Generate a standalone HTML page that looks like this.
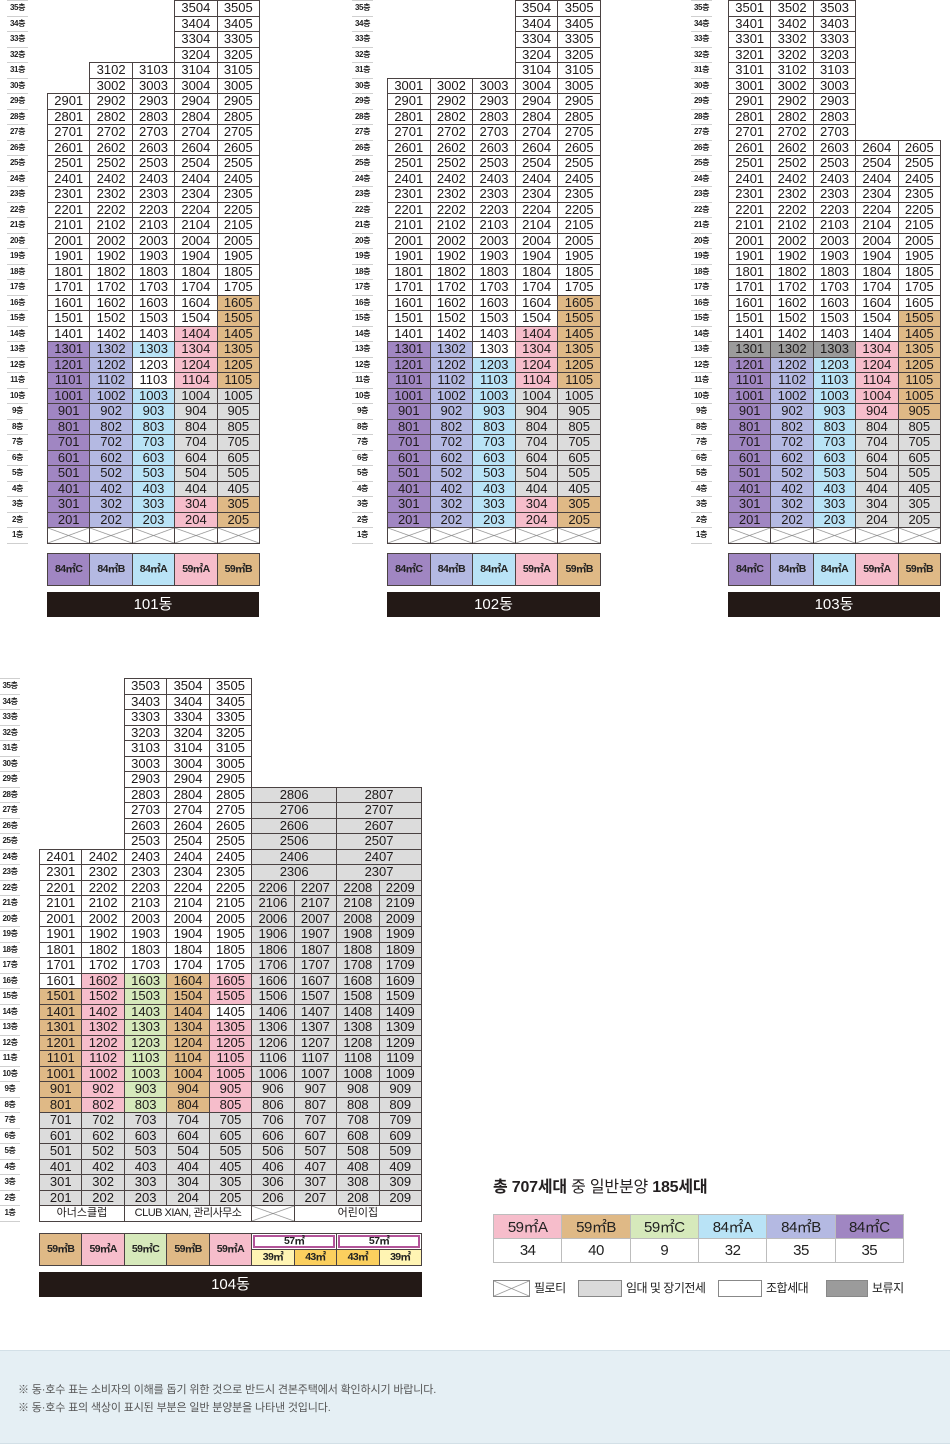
<!DOCTYPE html>
<html lang="ko"><head><meta charset="utf-8">
<style>
*{box-sizing:border-box}
body{margin:0;width:950px;height:1456px;position:relative;background:#fff;font-family:"Liberation Sans","Noto Sans CJK KR",sans-serif;overflow:hidden;color:#231f20}
.g{position:absolute;display:grid;grid-auto-rows:15.5px}
.c5{grid-template-columns:repeat(5,1fr)}
.c9{grid-template-columns:repeat(9,1fr)}
.g b{font-weight:normal;border:1px solid #4a4242;margin:-1px 0 0 -1px;font-size:13px;line-height:14px;text-align:center;background:#fff;display:block;white-space:nowrap;overflow:hidden;color:#1e1a1a}
.g i{display:block}
.g b.p{background:#a086c2}.g b.l{background:#b4b9e2}.g b.a{background:#b9e3f6}
.g b.k{background:#f6bdcb}.g b.t{background:#dfb986}.g b.n{background:#d6e9bb}
.g b.gr{background:#dcdcdc}.g b.d{background:#9b9b9b}
.g b.s2{grid-column:span 2}.g b.s3{grid-column:span 3}
.x{background-color:#fff!important;background-image:linear-gradient(to top right,transparent calc(50% - .7px),#8a8a8a 50%,transparent calc(50% + .7px)),linear-gradient(to bottom right,transparent calc(50% - .7px),#8a8a8a 50%,transparent calc(50% + .7px))!important}
.fl{position:absolute;top:0;display:grid;grid-auto-rows:15.5px;border-top:1px solid #cfcfcf}
.fl div{font-size:8px;font-weight:bold;text-align:center;line-height:14px;border-bottom:1px solid #cfcfcf;color:#222;letter-spacing:-.4px}
.lg{position:absolute;display:grid;grid-template-columns:repeat(5,1fr);height:33px}
.lg div{border:1px solid #4a4242;margin-left:-1px;font-size:10.5px;line-height:31px;text-align:center;letter-spacing:-.6px;color:#222;font-weight:bold}
.bar{position:absolute;height:25px;background:#231916;color:#fff;font-size:15px;line-height:25px;text-align:center}
.l4{position:absolute;left:40px;top:1234px;width:382px;height:32px;display:grid;grid-template-columns:repeat(9,1fr);grid-template-rows:16px 16px}
.l4 div{border:1px solid #4a4242;margin:-1px 0 0 -1px;font-size:10.5px;text-align:center;letter-spacing:-.6px;color:#222;line-height:14px;font-weight:bold}
.l4 .r2{grid-row:span 2;line-height:30px}
.l4 .m{grid-column:span 2;background:#fff;box-shadow:inset 0 0 0 1px #fff,inset 0 0 0 3px #b35499}
.sum{position:absolute;left:493px;top:1214px;width:411px;border-collapse:collapse;table-layout:fixed}
.sum td{border:1px solid #bdbdbd;height:24px;text-align:center;font-size:15px;color:#222;padding:0;letter-spacing:-.5px}
.leg{position:absolute;top:1280px;height:17px;border:1px solid #888}
.lt{position:absolute;top:1280px;font-size:12px;line-height:17px;color:#222;letter-spacing:-.5px}
</style></head><body>

<!-- floor labels -->
<div class="fl" style="left:7px;width:21px"><div>35층</div><div>34층</div><div>33층</div><div>32층</div><div>31층</div><div>30층</div><div>29층</div><div>28층</div><div>27층</div><div>26층</div><div>25층</div><div>24층</div><div>23층</div><div>22층</div><div>21층</div><div>20층</div><div>19층</div><div>18층</div><div>17층</div><div>16층</div><div>15층</div><div>14층</div><div>13층</div><div>12층</div><div>11층</div><div>10층</div><div>9층</div><div>8층</div><div>7층</div><div>6층</div><div>5층</div><div>4층</div><div>3층</div><div>2층</div><div>1층</div></div>
<div class="fl" style="left:352px;width:21px"><div>35층</div><div>34층</div><div>33층</div><div>32층</div><div>31층</div><div>30층</div><div>29층</div><div>28층</div><div>27층</div><div>26층</div><div>25층</div><div>24층</div><div>23층</div><div>22층</div><div>21층</div><div>20층</div><div>19층</div><div>18층</div><div>17층</div><div>16층</div><div>15층</div><div>14층</div><div>13층</div><div>12층</div><div>11층</div><div>10층</div><div>9층</div><div>8층</div><div>7층</div><div>6층</div><div>5층</div><div>4층</div><div>3층</div><div>2층</div><div>1층</div></div>
<div class="fl" style="left:691px;width:21px"><div>35층</div><div>34층</div><div>33층</div><div>32층</div><div>31층</div><div>30층</div><div>29층</div><div>28층</div><div>27층</div><div>26층</div><div>25층</div><div>24층</div><div>23층</div><div>22층</div><div>21층</div><div>20층</div><div>19층</div><div>18층</div><div>17층</div><div>16층</div><div>15층</div><div>14층</div><div>13층</div><div>12층</div><div>11층</div><div>10층</div><div>9층</div><div>8층</div><div>7층</div><div>6층</div><div>5층</div><div>4층</div><div>3층</div><div>2층</div><div>1층</div></div>
<div class="fl" style="left:0px;width:20px;top:678px"><div>35층</div><div>34층</div><div>33층</div><div>32층</div><div>31층</div><div>30층</div><div>29층</div><div>28층</div><div>27층</div><div>26층</div><div>25층</div><div>24층</div><div>23층</div><div>22층</div><div>21층</div><div>20층</div><div>19층</div><div>18층</div><div>17층</div><div>16층</div><div>15층</div><div>14층</div><div>13층</div><div>12층</div><div>11층</div><div>10층</div><div>9층</div><div>8층</div><div>7층</div><div>6층</div><div>5층</div><div>4층</div><div>3층</div><div>2층</div><div>1층</div></div>

<!-- 101 -->
<div class="g c5" style="left:48px;top:1px;width:212px">
<i></i><i></i><i></i><b>3504</b><b>3505</b>
<i></i><i></i><i></i><b>3404</b><b>3405</b>
<i></i><i></i><i></i><b>3304</b><b>3305</b>
<i></i><i></i><i></i><b>3204</b><b>3205</b>
<i></i><b>3102</b><b>3103</b><b>3104</b><b>3105</b>
<i></i><b>3002</b><b>3003</b><b>3004</b><b>3005</b>
<b>2901</b><b>2902</b><b>2903</b><b>2904</b><b>2905</b>
<b>2801</b><b>2802</b><b>2803</b><b>2804</b><b>2805</b>
<b>2701</b><b>2702</b><b>2703</b><b>2704</b><b>2705</b>
<b>2601</b><b>2602</b><b>2603</b><b>2604</b><b>2605</b>
<b>2501</b><b>2502</b><b>2503</b><b>2504</b><b>2505</b>
<b>2401</b><b>2402</b><b>2403</b><b>2404</b><b>2405</b>
<b>2301</b><b>2302</b><b>2303</b><b>2304</b><b>2305</b>
<b>2201</b><b>2202</b><b>2203</b><b>2204</b><b>2205</b>
<b>2101</b><b>2102</b><b>2103</b><b>2104</b><b>2105</b>
<b>2001</b><b>2002</b><b>2003</b><b>2004</b><b>2005</b>
<b>1901</b><b>1902</b><b>1903</b><b>1904</b><b>1905</b>
<b>1801</b><b>1802</b><b>1803</b><b>1804</b><b>1805</b>
<b>1701</b><b>1702</b><b>1703</b><b>1704</b><b>1705</b>
<b>1601</b><b>1602</b><b>1603</b><b>1604</b><b class="t">1605</b>
<b>1501</b><b>1502</b><b>1503</b><b>1504</b><b class="t">1505</b>
<b>1401</b><b>1402</b><b>1403</b><b class="k">1404</b><b class="t">1405</b>
<b class="p">1301</b><b class="l">1302</b><b class="a">1303</b><b class="k">1304</b><b class="t">1305</b>
<b class="p">1201</b><b class="l">1202</b><b>1203</b><b class="k">1204</b><b class="t">1205</b>
<b class="p">1101</b><b class="l">1102</b><b>1103</b><b class="k">1104</b><b class="t">1105</b>
<b class="p">1001</b><b class="l">1002</b><b class="a">1003</b><b class="gr">1004</b><b class="gr">1005</b>
<b class="p">901</b><b class="l">902</b><b class="a">903</b><b class="gr">904</b><b class="gr">905</b>
<b class="p">801</b><b class="l">802</b><b class="a">803</b><b class="gr">804</b><b class="gr">805</b>
<b class="p">701</b><b class="l">702</b><b class="a">703</b><b class="gr">704</b><b class="gr">705</b>
<b class="p">601</b><b class="l">602</b><b class="a">603</b><b class="gr">604</b><b class="gr">605</b>
<b class="p">501</b><b class="l">502</b><b class="a">503</b><b class="gr">504</b><b class="gr">505</b>
<b class="p">401</b><b class="l">402</b><b class="a">403</b><b class="gr">404</b><b class="gr">405</b>
<b class="p">301</b><b class="l">302</b><b class="a">303</b><b class="k">304</b><b class="t">305</b>
<b class="p">201</b><b class="l">202</b><b class="a">203</b><b class="k">204</b><b class="t">205</b>
<b class="x"></b><b class="x"></b><b class="x"></b><b class="x"></b><b class="x"></b>
</div>
<div class="lg" style="left:48px;top:553px;width:212px"><div style="background:#a086c2">84㎡C</div><div style="background:#b4b9e2">84㎡B</div><div style="background:#b9e3f6">84㎡A</div><div style="background:#f6bdcb">59㎡A</div><div style="background:#dfb986">59㎡B</div></div>
<div class="bar" style="left:47px;top:592px;width:212px">101동</div>

<!-- 102 -->
<div class="g c5" style="left:388px;top:1px;width:213px">
<i></i><i></i><i></i><b>3504</b><b>3505</b>
<i></i><i></i><i></i><b>3404</b><b>3405</b>
<i></i><i></i><i></i><b>3304</b><b>3305</b>
<i></i><i></i><i></i><b>3204</b><b>3205</b>
<i></i><i></i><i></i><b>3104</b><b>3105</b>
<b>3001</b><b>3002</b><b>3003</b><b>3004</b><b>3005</b>
<b>2901</b><b>2902</b><b>2903</b><b>2904</b><b>2905</b>
<b>2801</b><b>2802</b><b>2803</b><b>2804</b><b>2805</b>
<b>2701</b><b>2702</b><b>2703</b><b>2704</b><b>2705</b>
<b>2601</b><b>2602</b><b>2603</b><b>2604</b><b>2605</b>
<b>2501</b><b>2502</b><b>2503</b><b>2504</b><b>2505</b>
<b>2401</b><b>2402</b><b>2403</b><b>2404</b><b>2405</b>
<b>2301</b><b>2302</b><b>2303</b><b>2304</b><b>2305</b>
<b>2201</b><b>2202</b><b>2203</b><b>2204</b><b>2205</b>
<b>2101</b><b>2102</b><b>2103</b><b>2104</b><b>2105</b>
<b>2001</b><b>2002</b><b>2003</b><b>2004</b><b>2005</b>
<b>1901</b><b>1902</b><b>1903</b><b>1904</b><b>1905</b>
<b>1801</b><b>1802</b><b>1803</b><b>1804</b><b>1805</b>
<b>1701</b><b>1702</b><b>1703</b><b>1704</b><b>1705</b>
<b>1601</b><b>1602</b><b>1603</b><b>1604</b><b class="t">1605</b>
<b>1501</b><b>1502</b><b>1503</b><b>1504</b><b class="t">1505</b>
<b>1401</b><b>1402</b><b>1403</b><b class="k">1404</b><b class="t">1405</b>
<b class="p">1301</b><b class="l">1302</b><b>1303</b><b class="k">1304</b><b class="t">1305</b>
<b class="p">1201</b><b class="l">1202</b><b class="a">1203</b><b class="k">1204</b><b class="t">1205</b>
<b class="p">1101</b><b class="l">1102</b><b class="a">1103</b><b class="k">1104</b><b class="t">1105</b>
<b class="p">1001</b><b class="l">1002</b><b class="a">1003</b><b class="gr">1004</b><b class="gr">1005</b>
<b class="p">901</b><b class="l">902</b><b class="a">903</b><b class="gr">904</b><b class="gr">905</b>
<b class="p">801</b><b class="l">802</b><b class="a">803</b><b class="gr">804</b><b class="gr">805</b>
<b class="p">701</b><b class="l">702</b><b class="a">703</b><b class="gr">704</b><b class="gr">705</b>
<b class="p">601</b><b class="l">602</b><b class="a">603</b><b class="gr">604</b><b class="gr">605</b>
<b class="p">501</b><b class="l">502</b><b class="a">503</b><b class="gr">504</b><b class="gr">505</b>
<b class="p">401</b><b class="l">402</b><b class="a">403</b><b class="gr">404</b><b class="gr">405</b>
<b class="p">301</b><b class="l">302</b><b class="a">303</b><b class="k">304</b><b class="t">305</b>
<b class="p">201</b><b class="l">202</b><b class="a">203</b><b class="k">204</b><b class="t">205</b>
<b class="x"></b><b class="x"></b><b class="x"></b><b class="x"></b><b class="x"></b>
</div>
<div class="lg" style="left:388px;top:553px;width:213px"><div style="background:#a086c2">84㎡C</div><div style="background:#b4b9e2">84㎡B</div><div style="background:#b9e3f6">84㎡A</div><div style="background:#f6bdcb">59㎡A</div><div style="background:#dfb986">59㎡B</div></div>
<div class="bar" style="left:387px;top:592px;width:213px">102동</div>

<!-- 103 -->
<div class="g c5" style="left:729px;top:1px;width:212px">
<b>3501</b><b>3502</b><b>3503</b><i></i><i></i>
<b>3401</b><b>3402</b><b>3403</b><i></i><i></i>
<b>3301</b><b>3302</b><b>3303</b><i></i><i></i>
<b>3201</b><b>3202</b><b>3203</b><i></i><i></i>
<b>3101</b><b>3102</b><b>3103</b><i></i><i></i>
<b>3001</b><b>3002</b><b>3003</b><i></i><i></i>
<b>2901</b><b>2902</b><b>2903</b><i></i><i></i>
<b>2801</b><b>2802</b><b>2803</b><i></i><i></i>
<b>2701</b><b>2702</b><b>2703</b><i></i><i></i>
<b>2601</b><b>2602</b><b>2603</b><b>2604</b><b>2605</b>
<b>2501</b><b>2502</b><b>2503</b><b>2504</b><b>2505</b>
<b>2401</b><b>2402</b><b>2403</b><b>2404</b><b>2405</b>
<b>2301</b><b>2302</b><b>2303</b><b>2304</b><b>2305</b>
<b>2201</b><b>2202</b><b>2203</b><b>2204</b><b>2205</b>
<b>2101</b><b>2102</b><b>2103</b><b>2104</b><b>2105</b>
<b>2001</b><b>2002</b><b>2003</b><b>2004</b><b>2005</b>
<b>1901</b><b>1902</b><b>1903</b><b>1904</b><b>1905</b>
<b>1801</b><b>1802</b><b>1803</b><b>1804</b><b>1805</b>
<b>1701</b><b>1702</b><b>1703</b><b>1704</b><b>1705</b>
<b>1601</b><b>1602</b><b>1603</b><b>1604</b><b>1605</b>
<b>1501</b><b>1502</b><b>1503</b><b>1504</b><b class="t">1505</b>
<b>1401</b><b>1402</b><b>1403</b><b>1404</b><b class="t">1405</b>
<b class="d">1301</b><b class="d">1302</b><b class="d">1303</b><b class="k">1304</b><b class="t">1305</b>
<b class="p">1201</b><b class="l">1202</b><b class="a">1203</b><b class="k">1204</b><b class="t">1205</b>
<b class="p">1101</b><b class="l">1102</b><b class="a">1103</b><b class="k">1104</b><b class="t">1105</b>
<b class="p">1001</b><b class="l">1002</b><b class="a">1003</b><b class="k">1004</b><b class="t">1005</b>
<b class="p">901</b><b class="l">902</b><b class="a">903</b><b class="k">904</b><b class="t">905</b>
<b class="p">801</b><b class="l">802</b><b class="a">803</b><b class="gr">804</b><b class="gr">805</b>
<b class="p">701</b><b class="l">702</b><b class="a">703</b><b class="gr">704</b><b class="gr">705</b>
<b class="p">601</b><b class="l">602</b><b class="a">603</b><b class="gr">604</b><b class="gr">605</b>
<b class="p">501</b><b class="l">502</b><b class="a">503</b><b class="gr">504</b><b class="gr">505</b>
<b class="p">401</b><b class="l">402</b><b class="a">403</b><b class="gr">404</b><b class="gr">405</b>
<b class="p">301</b><b class="l">302</b><b class="a">303</b><b class="gr">304</b><b class="gr">305</b>
<b class="p">201</b><b class="l">202</b><b class="a">203</b><b class="gr">204</b><b class="gr">205</b>
<b class="x"></b><b class="x"></b><b class="x"></b><b class="x"></b><b class="x"></b>
</div>
<div class="lg" style="left:729px;top:553px;width:212px"><div style="background:#a086c2">84㎡C</div><div style="background:#b4b9e2">84㎡B</div><div style="background:#b9e3f6">84㎡A</div><div style="background:#f6bdcb">59㎡A</div><div style="background:#dfb986">59㎡B</div></div>
<div class="bar" style="left:728px;top:592px;width:212px">103동</div>

<!-- 104 -->
<div class="g c9" style="left:40px;top:679px;width:382px">
<i></i><i></i><b>3503</b><b>3504</b><b>3505</b><i></i><i></i><i></i><i></i>
<i></i><i></i><b>3403</b><b>3404</b><b>3405</b><i></i><i></i><i></i><i></i>
<i></i><i></i><b>3303</b><b>3304</b><b>3305</b><i></i><i></i><i></i><i></i>
<i></i><i></i><b>3203</b><b>3204</b><b>3205</b><i></i><i></i><i></i><i></i>
<i></i><i></i><b>3103</b><b>3104</b><b>3105</b><i></i><i></i><i></i><i></i>
<i></i><i></i><b>3003</b><b>3004</b><b>3005</b><i></i><i></i><i></i><i></i>
<i></i><i></i><b>2903</b><b>2904</b><b>2905</b><i></i><i></i><i></i><i></i>
<i></i><i></i><b>2803</b><b>2804</b><b>2805</b><b class="gr s2">2806</b><b class="gr s2">2807</b>
<i></i><i></i><b>2703</b><b>2704</b><b>2705</b><b class="gr s2">2706</b><b class="gr s2">2707</b>
<i></i><i></i><b>2603</b><b>2604</b><b>2605</b><b class="gr s2">2606</b><b class="gr s2">2607</b>
<i></i><i></i><b>2503</b><b>2504</b><b>2505</b><b class="gr s2">2506</b><b class="gr s2">2507</b>
<b>2401</b><b>2402</b><b>2403</b><b>2404</b><b>2405</b><b class="gr s2">2406</b><b class="gr s2">2407</b>
<b>2301</b><b>2302</b><b>2303</b><b>2304</b><b>2305</b><b class="gr s2">2306</b><b class="gr s2">2307</b>
<b>2201</b><b>2202</b><b>2203</b><b>2204</b><b>2205</b><b class="gr">2206</b><b class="gr">2207</b><b class="gr">2208</b><b class="gr">2209</b>
<b>2101</b><b>2102</b><b>2103</b><b>2104</b><b>2105</b><b class="gr">2106</b><b class="gr">2107</b><b class="gr">2108</b><b class="gr">2109</b>
<b>2001</b><b>2002</b><b>2003</b><b>2004</b><b>2005</b><b class="gr">2006</b><b class="gr">2007</b><b class="gr">2008</b><b class="gr">2009</b>
<b>1901</b><b>1902</b><b>1903</b><b>1904</b><b>1905</b><b class="gr">1906</b><b class="gr">1907</b><b class="gr">1908</b><b class="gr">1909</b>
<b>1801</b><b>1802</b><b>1803</b><b>1804</b><b>1805</b><b class="gr">1806</b><b class="gr">1807</b><b class="gr">1808</b><b class="gr">1809</b>
<b>1701</b><b>1702</b><b>1703</b><b>1704</b><b>1705</b><b class="gr">1706</b><b class="gr">1707</b><b class="gr">1708</b><b class="gr">1709</b>
<b>1601</b><b class="k">1602</b><b class="n">1603</b><b class="t">1604</b><b class="k">1605</b><b class="gr">1606</b><b class="gr">1607</b><b class="gr">1608</b><b class="gr">1609</b>
<b class="t">1501</b><b class="k">1502</b><b class="n">1503</b><b class="t">1504</b><b class="k">1505</b><b class="gr">1506</b><b class="gr">1507</b><b class="gr">1508</b><b class="gr">1509</b>
<b class="t">1401</b><b class="k">1402</b><b class="n">1403</b><b class="t">1404</b><b>1405</b><b class="gr">1406</b><b class="gr">1407</b><b class="gr">1408</b><b class="gr">1409</b>
<b class="t">1301</b><b class="k">1302</b><b class="n">1303</b><b class="t">1304</b><b class="k">1305</b><b class="gr">1306</b><b class="gr">1307</b><b class="gr">1308</b><b class="gr">1309</b>
<b class="t">1201</b><b class="k">1202</b><b class="n">1203</b><b class="t">1204</b><b class="k">1205</b><b class="gr">1206</b><b class="gr">1207</b><b class="gr">1208</b><b class="gr">1209</b>
<b class="t">1101</b><b class="k">1102</b><b class="n">1103</b><b class="t">1104</b><b class="k">1105</b><b class="gr">1106</b><b class="gr">1107</b><b class="gr">1108</b><b class="gr">1109</b>
<b class="t">1001</b><b class="k">1002</b><b class="n">1003</b><b class="t">1004</b><b class="k">1005</b><b class="gr">1006</b><b class="gr">1007</b><b class="gr">1008</b><b class="gr">1009</b>
<b class="t">901</b><b class="k">902</b><b class="n">903</b><b class="t">904</b><b class="k">905</b><b class="gr">906</b><b class="gr">907</b><b class="gr">908</b><b class="gr">909</b>
<b class="t">801</b><b class="k">802</b><b class="n">803</b><b class="t">804</b><b class="k">805</b><b class="gr">806</b><b class="gr">807</b><b class="gr">808</b><b class="gr">809</b>
<b class="gr">701</b><b class="gr">702</b><b class="gr">703</b><b class="gr">704</b><b class="gr">705</b><b class="gr">706</b><b class="gr">707</b><b class="gr">708</b><b class="gr">709</b>
<b class="gr">601</b><b class="gr">602</b><b class="gr">603</b><b class="gr">604</b><b class="gr">605</b><b class="gr">606</b><b class="gr">607</b><b class="gr">608</b><b class="gr">609</b>
<b class="gr">501</b><b class="gr">502</b><b class="gr">503</b><b class="gr">504</b><b class="gr">505</b><b class="gr">506</b><b class="gr">507</b><b class="gr">508</b><b class="gr">509</b>
<b class="gr">401</b><b class="gr">402</b><b class="gr">403</b><b class="gr">404</b><b class="gr">405</b><b class="gr">406</b><b class="gr">407</b><b class="gr">408</b><b class="gr">409</b>
<b class="gr">301</b><b class="gr">302</b><b class="gr">303</b><b class="gr">304</b><b class="gr">305</b><b class="gr">306</b><b class="gr">307</b><b class="gr">308</b><b class="gr">309</b>
<b class="gr">201</b><b class="gr">202</b><b class="gr">203</b><b class="gr">204</b><b class="gr">205</b><b class="gr">206</b><b class="gr">207</b><b class="gr">208</b><b class="gr">209</b>
<b class="s2" style="font-size:11px">아너스클럽</b><b class="s3" style="font-size:11px;letter-spacing:-.5px">CLUB XIAN, 관리사무소</b><b class="x"></b><b class="s3" style="font-size:11px">어린이집</b>
</div>
<div class="l4">
<div class="r2" style="background:#dfb986">59㎡B</div><div class="r2" style="background:#f6bdcb">59㎡A</div><div class="r2" style="background:#d6e9bb">59㎡C</div><div class="r2" style="background:#dfb986">59㎡B</div><div class="r2" style="background:#f6bdcb">59㎡A</div>
<div class="m">57㎡</div><div class="m">57㎡</div>
<div style="background:#fff4b3">39㎡</div><div style="background:#fbcf5e">43㎡</div><div style="background:#fbcf5e">43㎡</div><div style="background:#fff4b3">39㎡</div>
</div>
<div class="bar" style="left:39px;top:1272px;width:383px">104동</div>

<!-- summary -->
<div style="position:absolute;left:493px;top:1178px;font-size:16px;line-height:20px;letter-spacing:-.2px;color:#231f20"><b>총 707세대</b> 중 일반분양 <b>185세대</b></div>
<table class="sum">
<tr><td style="background:#f6bdcb">59㎡A</td><td style="background:#dfb986">59㎡B</td><td style="background:#d6e9bb">59㎡C</td><td style="background:#b9e3f6">84㎡A</td><td style="background:#b4b9e2">84㎡B</td><td style="background:#a086c2">84㎡C</td></tr>
<tr><td>34</td><td>40</td><td>9</td><td>32</td><td>35</td><td>35</td></tr>
</table>
<div class="leg x" style="left:493px;width:37px"></div><div class="lt" style="left:534px">필로티</div>
<div class="leg" style="left:578px;width:44px;background:#dadada"></div><div class="lt" style="left:626px">임대 및 장기전세</div>
<div class="leg" style="left:718px;width:44px;background:#fff"></div><div class="lt" style="left:766px">조합세대</div>
<div class="leg" style="left:826px;width:42px;background:#9b9b9b"></div><div class="lt" style="left:872px">보류지</div>

<!-- note -->
<div style="position:absolute;left:0;top:1350px;width:950px;height:94px;background:#e5eff4;border-top:1px solid #d3e0e7;border-bottom:1px solid #d3e0e7"></div>
<div style="position:absolute;left:18px;top:1381px;font-size:11px;line-height:18px;color:#555;letter-spacing:-.15px">※ 동·호수 표는 소비자의 이해를 돕기 위한 것으로 반드시 견본주택에서 확인하시기 바랍니다.<br>※ 동·호수 표의 색상이 표시된 부분은 일반 분양분을 나타낸 것입니다.</div>

</body></html>
